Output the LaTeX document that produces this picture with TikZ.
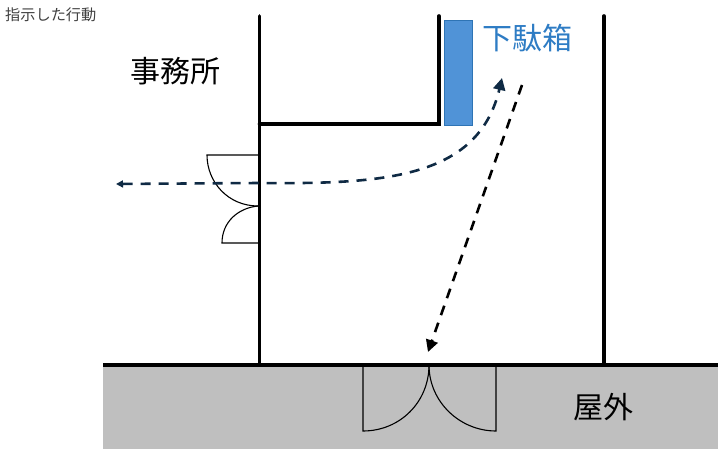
\documentclass[tikz,border=0pt]{standalone}
\usepackage{fontspec}
\setmainfont{Noto Sans CJK JP}
\usetikzlibrary{arrows.meta}
\definecolor{navyarrow}{HTML}{0F2A44}
\definecolor{shoeblue}{HTML}{5093D7}
\definecolor{shoeedge}{HTML}{2E74B5}
\definecolor{labelblue}{HTML}{2E7CC4}
\definecolor{ground}{HTML}{BFBFBF}
\tikzset{
 wall/.style={line width=3.6pt,line cap=round},
 door/.style={line width=1.1pt,black},
 route/.style={line width=2.6pt,dash pattern=on 10pt off 8pt},
 label/.style={inner sep=0pt,font=\fontsize{30}{34}\selectfont},
}
\begin{document}
\begin{tikzpicture}[x=1pt,y=-1pt]
\useasboundingbox (0,0) rectangle (724,455);
\fill[ground] (103,365) rectangle (718,449);
\fill[shoeblue] (444,20) rectangle (472,125);
\draw[shoeedge,line width=1pt] (444,20) rectangle (472,125);
% walls
\draw[wall] (259.5,16) -- (259.5,365);
\draw[wall] (604,16) -- (604,365);
\draw[wall] (439,16) -- (439,124) -- (259.5,124);
\draw[wall,line cap=butt] (103,365) -- (718,365);
% side doors
\draw[door] (258,155) -- (207,155) .. controls (207,182) and (228,206) .. (258,206);
\draw[door] (258,206) .. controls (238,208) and (222,222) .. (222,243) -- (258,243);
% entrance doors
\draw[door] (429,365) .. controls (429,402) and (400,431) .. (363,431) -- (363,365);
\draw[door] (429,365) .. controls (429,402) and (460,431) .. (496,431) -- (496,365);
% routes
\coordinate (shoesA) at (522,85);
\coordinate (entry) at (428,352);
\coordinate (shoesB) at (502,78);
\coordinate (exit) at (116,184);
\coordinate (wallpass) at (259,183);
\draw[route,black,-{Triangle[length=12pt,width=12pt]}] (shoesA) -- (entry);
\draw[route,navyarrow,{Triangle[length=7pt,width=7pt]}-{Triangle[length=12pt,width=12pt]}] (exit) -- (wallpass) .. controls (380,184) and (478,180) .. (shoesB);
% labels
\node[label,anchor=center] (office) at (175.5,71) {事務所};
\node[label,anchor=center,text=labelblue] (shoebox) at (527,38) {下駄箱};
\node[label,anchor=center] (outside) at (603.5,407) {屋外};
\node[inner sep=0pt,anchor=west,font=\fontsize{15.2}{18}\selectfont,text=black!75] (title) at (5,15) {指示した行動};
\end{tikzpicture}
\end{document}
